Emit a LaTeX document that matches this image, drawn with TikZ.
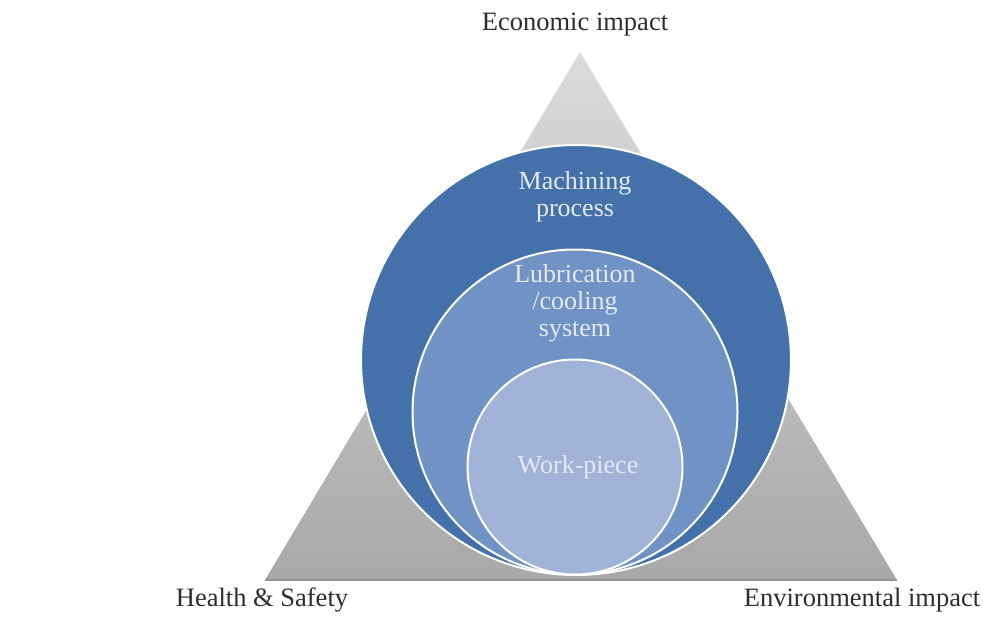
\documentclass[tikz,border=0pt]{standalone}
\usepackage{fontspec}
\setmainfont{Liberation Serif}
\definecolor{procblue}{RGB}{69,113,170}
\definecolor{lubeblue}{RGB}{112,146,196}
\definecolor{workblue}{RGB}{160,179,214}
\definecolor{ringtext}{RGB}{228,234,244}
\definecolor{labelgray}{RGB}{45,45,45}
\usetikzlibrary{positioning}

\begin{document}
\begin{tikzpicture}[x=1pt,y=-1pt,
  ring/.style={draw=white,line width=2pt,circle,inner sep=0pt},
  ringlabel/.style={text=ringtext,font=\fontsize{26}{27}\selectfont,align=center},
  corner/.style={text=labelgray,font=\fontsize{26.5}{28}\selectfont}]
  \useasboundingbox (0,0) rectangle (983,619);
  % impact triangle behind the rings
  \shade[top color=gray!28,bottom color=gray!68] (580,52) -- (897,580) -- (265,580) -- cycle;
  \draw[gray!85,line width=1.5pt] (265,580) -- (897,580);
  % nested rings, all touching at the bottom
  \node[ring,fill=procblue,minimum size=430pt] (process) at (576,360) {};
  \node[ring,fill=lubeblue,minimum size=325pt] (lube) at (575,412) {};
  \node[ring,fill=workblue,minimum size=215pt] (work) at (575,467) {};
  \node[ringlabel] (proclabel) at (575,197) {Machining\\process};
  \node[ringlabel] (lubelabel) at (575,303) {Lubrication\\/cooling\\system};
  \node[ringlabel] (worklabel) at (578,467) {Work-piece};
  % corner labels
  \node[corner] (econ) at (575,25) {Economic impact};
  \node[corner] (health) at (262,600) {Health \& Safety};
  \node[corner] (env) at (862,600) {Environmental impact};
\end{tikzpicture}
\end{document}
